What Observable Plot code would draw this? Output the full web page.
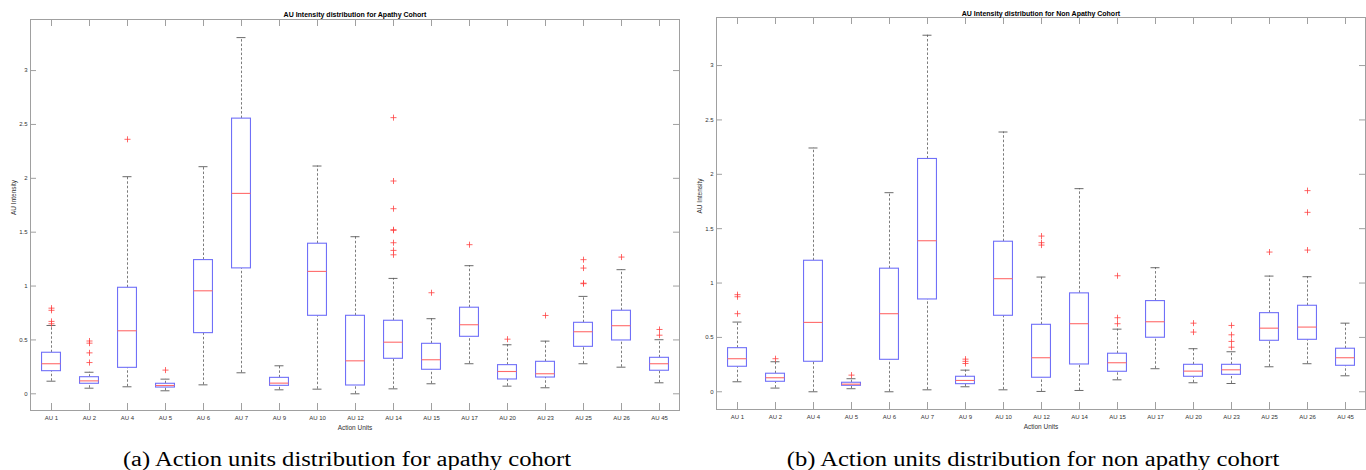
<!DOCTYPE html>
<html><head><meta charset="utf-8">
<script src="https://cdn.jsdelivr.net/npm/d3@7"></script>
<script src="https://cdn.jsdelivr.net/npm/@observablehq/plot@0.6"></script>
<style>
body{margin:0;background:#fff;width:1366px;height:470px;position:relative;overflow:hidden;font-family:"Liberation Sans",Arial,sans-serif}
.panel{position:absolute;top:0}
.cap{position:absolute;top:449px;font-family:"Liberation Serif","Times New Roman",serif;font-size:20.5px;line-height:20px;white-space:nowrap;transform:translateX(-50%) scaleX(1.2);color:#000}
</style></head><body>
<div id="a" class="panel" style="left:0"></div>
<div id="b" class="panel" style="left:683px"></div>
<div class="cap" style="left:347px">(a) Action units distribution for apathy cohort</div>
<div class="cap" style="left:1033px">(b) Action units distribution for non apathy cohort</div>
<script>
const aus = ["AU 1","AU 2","AU 4","AU 5","AU 6","AU 7","AU 9","AU 10","AU 12","AU 14","AU 15","AU 17","AU 20","AU 23","AU 25","AU 26","AU 45"];
const yTicks = [0, 0.5, 1, 1.5, 2, 2.5, 3];

// Apathy cohort
const apLo  = [0.117,0.052,0.065,0.028,0.083,0.195,0.037,0.043,0.0,0.046,0.093,0.279,0.071,0.056,0.279,0.247,0.102];
const apQ1  = [0.21,0.093,0.241,0.058,0.563,1.164,0.074,0.724,0.077,0.325,0.223,0.529,0.133,0.151,0.436,0.495,0.214];
const apMed = [0.279,0.12,0.585,0.077,0.956,1.86,0.099,1.136,0.306,0.479,0.316,0.641,0.207,0.186,0.576,0.632,0.279];
const apQ3  = [0.381,0.154,0.984,0.093,1.241,2.554,0.148,1.393,0.724,0.678,0.464,0.799,0.266,0.297,0.659,0.771,0.334];
const apHi  = [0.634,0.2,2.015,0.136,2.108,3.306,0.26,2.114,1.458,1.071,0.697,1.189,0.455,0.489,0.904,1.152,0.502];
const apOut = [[0.795,0.775,0.672,0.65],[0.49,0.47,0.38,0.29],[2.362],[0.22],[],[],[],[],[],[2.563,1.975,1.718,1.523,1.517,1.402,1.331,1.29],[0.938],[1.384],[0.507],[0.727],[1.245,1.167,1.027,1.022],[1.269],[0.597,0.544]];

// Non apathy cohort
const naLo  = [0.092,0.034,0.0,0.028,0.0,0.018,0.046,0.018,0.003,0.012,0.11,0.212,0.083,0.076,0.23,0.258,0.147];
const naQ1  = [0.23,0.092,0.276,0.055,0.294,0.849,0.07,0.699,0.129,0.251,0.184,0.497,0.138,0.156,0.469,0.478,0.239];
const naMed = [0.304,0.129,0.638,0.07,0.718,1.389,0.104,1.04,0.313,0.626,0.267,0.644,0.19,0.202,0.585,0.595,0.313];
const naQ3  = [0.401,0.166,1.205,0.083,1.132,2.141,0.138,1.38,0.616,0.905,0.35,0.834,0.248,0.248,0.723,0.791,0.396];
const naHi  = [0.641,0.276,2.242,0.12,1.831,3.279,0.199,2.389,1.055,1.868,0.576,1.141,0.396,0.368,1.064,1.058,0.631];
const naOut = [[0.893,0.874,0.718],[0.304],[],[0.153],[],[],[0.30,0.28,0.26],[],[1.432,1.371,1.349],[],[1.067,0.681,0.626],[],[0.631,0.549],[0.61,0.524,0.463,0.41],[1.285],[1.85,1.65,1.303],[]];

const BLUE = "#7070f8", RED = "#ff6a6a", GRAY = "#a0a0a0", WH = "#5a5a5a";

function panel({lo,q1,med,q3,hi,out,title,domain,mt,mb,ml,mr,titleDy}) {
  const rows = aus.map((au,i) => ({au, lo:lo[i], q1:q1[i], med:med[i], q3:q3[i], hi:hi[i]}));
  const outs = aus.flatMap((au,i) => out[i].map(v => ({au, v})));
  const W = 683, H = 440;
  const iw = W - ml - mr, ih = H - mt - mb;
  const step = iw / aus.length;
  const boxIn = step / 4, capIn = step * 0.38;
  return Plot.plot({
    width: W, height: H, marginTop: mt, marginBottom: mb, marginLeft: ml, marginRight: mr,
    style: {fontFamily: "'Liberation Sans', Arial, sans-serif", background: "white", overflow: "visible"},
    x: {type: "band", domain: aus, padding: 0, axis: null},
    y: {domain, axis: null},
    marks: [
      Plot.ruleX(rows, {x: "au", y1: "q3", y2: "hi", stroke: WH, strokeWidth: 0.8, strokeDasharray: "2.5,2"}),
      Plot.ruleX(rows, {x: "au", y1: "lo", y2: "q1", stroke: WH, strokeWidth: 0.8, strokeDasharray: "2.5,2"}),
      Plot.tickY(rows, {x: "au", y: "hi", insetLeft: capIn, insetRight: capIn, stroke: WH, strokeWidth: 0.9}),
      Plot.tickY(rows, {x: "au", y: "lo", insetLeft: capIn, insetRight: capIn, stroke: WH, strokeWidth: 0.9}),
      Plot.barY(rows, {x: "au", y1: "q1", y2: "q3", fill: "white", stroke: BLUE, strokeWidth: 1.1, insetLeft: boxIn, insetRight: boxIn}),
      Plot.tickY(rows, {x: "au", y: "med", insetLeft: boxIn, insetRight: boxIn, stroke: RED, strokeWidth: 1.1}),
      Plot.dot(outs, {x: "au", y: "v", symbol: "plus", r: 2.1, stroke: "#ff4040", strokeWidth: 0.8}),
      Plot.frame({stroke: GRAY}),
      Plot.ruleX(aus, {x: d => d, insetBottom: ih - 7, stroke: GRAY}),
      Plot.ruleX(aus, {x: d => d, insetTop: ih - 7, stroke: GRAY}),
      Plot.ruleY(yTicks, {y: d => d, insetRight: iw - 6, stroke: GRAY}),
      Plot.ruleY(yTicks, {y: d => d, insetLeft: iw - 6, stroke: GRAY}),
      Plot.axisX({tickSize: 0, tickPadding: 5, fontSize: 6, fill: "#333", label: null}),
      Plot.axisY({ticks: yTicks, tickSize: 0, tickPadding: 3, fontSize: 6, fill: "#333", label: null, tickFormat: d => String(d)}),
      Plot.text([title], {text: d => d, frameAnchor: "top", lineAnchor: "middle", dy: titleDy, fontWeight: "bold", fontSize: 7, fill: "#000"}),
      Plot.text(["Action Units"], {text: d => d, frameAnchor: "bottom", lineAnchor: "middle", dy: 17, fontSize: 6.5, fill: "#333"}),
      Plot.text(["AU Intensity"], {text: d => d, frameAnchor: "left", rotate: -90, dx: -17, fontSize: 6.5, fill: "#333"})
    ]
  });
}

document.getElementById("a").append(panel({
  lo: apLo, q1: apQ1, med: apMed, q3: apQ3, hi: apHi, out: apOut,
  title: "AU Intensity distribution for Apathy Cohort",
  domain: [-0.155, 3.474], mt: 19, mb: 30, ml: 30, mr: 4, titleDy: -4.5
}));
document.getElementById("b").append(panel({
  lo: naLo, q1: naQ1, med: naMed, q3: naQ3, hi: naHi, out: naOut,
  title: "AU Intensity distribution for Non Apathy Cohort",
  domain: [-0.163, 3.442], mt: 17, mb: 31, ml: 33, mr: 1, titleDy: -4
}));
</script>
</body></html>
